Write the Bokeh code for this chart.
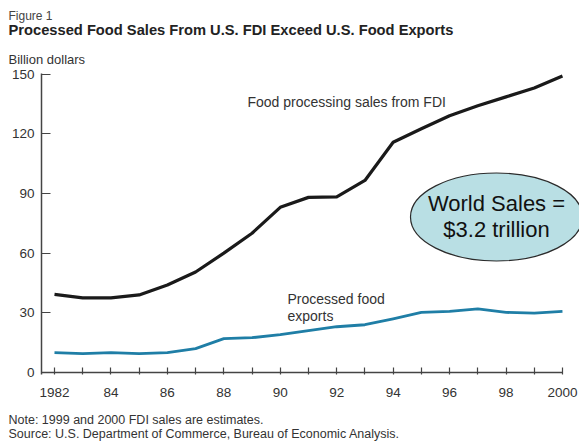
from bokeh.plotting import figure
from bokeh.layouts import column
from bokeh.models import FixedTicker, Label, Range1d, Title
from bokeh.embed import file_html
from bokeh.resources import INLINE

# ---- data ----
years = list(range(1982, 2001))
fdi_sales = [39.3, 37.5, 37.5, 39.0, 44.0, 50.5, 60.0, 70.0, 83.0, 88.0, 88.3, 96.5,
             115.7, 122.5, 129.0, 134.0, 138.5, 143.0, 149.0]
food_exports = [10.0, 9.5, 10.0, 9.5, 10.0, 12.0, 17.0, 17.5, 19.0, 21.0, 23.0, 24.0,
                27.0, 30.2, 30.7, 32.0, 30.2, 29.8, 30.7]
y_ticks = [0, 30, 60, 90, 120, 150]
x_major = list(range(1982, 2001, 2))
x_minor = list(range(1983, 2000, 2))
x_labels = ["1982", "84", "86", "88", "90", "92", "94", "96", "98", "2000"]

FONT = "Liberation Sans"

# ---- layout constants (page pixels) ----
W, H = 579, 442
TOP_H = 45            # header strip height
BOT_Y = 405           # footer strip starts here
LEFT, TOP, BOTTOM_PX = 41, 73, 374
PX_PER_YEAR = 28.22
PX_PER_UNIT = 1.99
X0_PX = 54            # pixel of first year
Y0_PX = 372           # pixel of value 0

x_start = years[0] - (X0_PX - LEFT) / PX_PER_YEAR
x_end = years[0] + (W - X0_PX) / PX_PER_YEAR
y_start = -(BOTTOM_PX - Y0_PX) / PX_PER_UNIT
y_end = (Y0_PX - TOP) / PX_PER_UNIT


def dx(px):
    return x_start + (px - LEFT) / PX_PER_YEAR


def dy(py):
    return (Y0_PX - py) / PX_PER_UNIT


def text_strip(y0, y1):
    f = figure(width=W, height=y1 - y0, output_backend="svg", toolbar_location=None,
               x_range=Range1d(0, W), y_range=Range1d(y1, y0),
               x_axis_location=None, y_axis_location=None,
               min_border_left=0, min_border_right=0, min_border_top=0, min_border_bottom=0,
               frame_align=False)
    f.outline_line_color = None
    f.xgrid.visible = False
    f.ygrid.visible = False
    f.background_fill_color = "white"
    f.border_fill_color = "white"
    return f


def strip_text(f, text, px, mid_py, size, bold=False, color="#333333"):
    f.add_layout(Label(x=px, y=mid_py, text=text, text_font=FONT, text_font_size=size,
                       text_align="left", text_baseline="middle", text_color=color,
                       text_font_style="bold" if bold else "normal"))


# ---- header ----
head = text_strip(0, TOP_H)
strip_text(head, "Figure 1", 8, 15, "12px", color="#444444")
strip_text(head, "Processed Food Sales From U.S. FDI Exceed U.S. Food Exports", 8, 29.5, "14.7px",
           bold=True, color="#222222")

# ---- main chart ----
p = figure(width=W, height=BOT_Y - TOP_H, output_backend="svg", toolbar_location=None,
           x_range=Range1d(x_start, x_end), y_range=Range1d(y_start, y_end),
           min_border_left=LEFT, min_border_right=0, min_border_top=TOP - TOP_H,
           min_border_bottom=BOT_Y - BOTTOM_PX, frame_align=False)
p.outline_line_color = None
p.xgrid.visible = False
p.ygrid.visible = False
p.background_fill_color = "white"
p.border_fill_color = "white"

p.xaxis.ticker = FixedTicker(ticks=x_major, minor_ticks=x_minor)
p.xaxis.major_label_overrides = {yr: lab for yr, lab in zip(x_major, x_labels)}
p.xaxis.axis_line_color = None
p.xaxis.major_tick_in = 7
p.xaxis.major_tick_out = 0
p.xaxis.minor_tick_in = 7
p.xaxis.minor_tick_out = 0
p.xaxis.major_tick_line_color = "#444444"
p.xaxis.minor_tick_line_color = "#444444"
p.xaxis.major_tick_line_width = 1.2
p.xaxis.minor_tick_line_width = 1.2
p.xaxis.major_label_standoff = 13
p.xaxis.major_label_text_font = FONT
p.xaxis.major_label_text_font_size = "13.5px"
p.xaxis.major_label_text_color = "#333333"

p.yaxis.ticker = FixedTicker(ticks=y_ticks)
p.yaxis.axis_line_color = "#444444"
p.yaxis.axis_line_width = 1.5
p.yaxis.major_tick_in = 9
p.yaxis.major_tick_out = 0
p.yaxis.minor_tick_line_color = None
p.yaxis.major_tick_line_color = "#444444"
p.yaxis.major_tick_line_width = 1.2
p.yaxis.major_label_standoff = 7
p.yaxis.major_label_text_font = FONT
p.yaxis.major_label_text_font_size = "13.5px"
p.yaxis.major_label_text_color = "#333333"

# x-axis base line ending at the last year
p.segment(x0=[x_start], y0=[0], x1=[years[-1]], y1=[0], line_color="#444444", line_width=1.5)

# series
p.line(years, food_exports, line_color="#1f7ea6", line_width=2.8, line_join="round")
p.line(years, fdi_sales, line_color="#1a1a1a", line_width=3.2, line_join="round")

# ellipse callout
p.ellipse(x=[dx(496)], y=[dy(216.5)], width=[172 / PX_PER_YEAR], height=[88 / PX_PER_UNIT],
          fill_color="#b9dfe4", line_color="#2b2b2b", line_width=1.2)


def add_label(text, px, py, size, align="left", color="#333333"):
    p.add_layout(Label(x=dx(px), y=dy(py), text=text, text_font=FONT,
                       text_font_size=size, text_align=align, text_baseline="middle",
                       text_color=color))


add_label("World Sales =", 496, 203, "22px", align="center", color="#111111")
add_label("$3.2 trillion", 496, 229, "22px", align="center", color="#111111")
add_label("Food processing sales from FDI", 247, 101, "14px")
add_label("Processed food", 287, 298, "14px")
add_label("exports", 287, 315, "14px")

p.add_layout(Title(text="Billion dollars", text_font=FONT, text_font_size="13px",
                   text_font_style="normal", text_color="#333333", align="left",
                   offset=8 - LEFT, standoff=10.1, vertical_align="top"), "above")

# ---- footer ----
foot = text_strip(BOT_Y, H)
strip_text(foot, "Note: 1999 and 2000 FDI sales are estimates.", 8, 419.5, "12.5px")
strip_text(foot, "Source:  U.S. Department of Commerce, Bureau of Economic Analysis.", 8, 433,
           "12.5px")

layout = column(head, p, foot, spacing=0)
open("out.html", "w").write(file_html(layout, INLINE))
